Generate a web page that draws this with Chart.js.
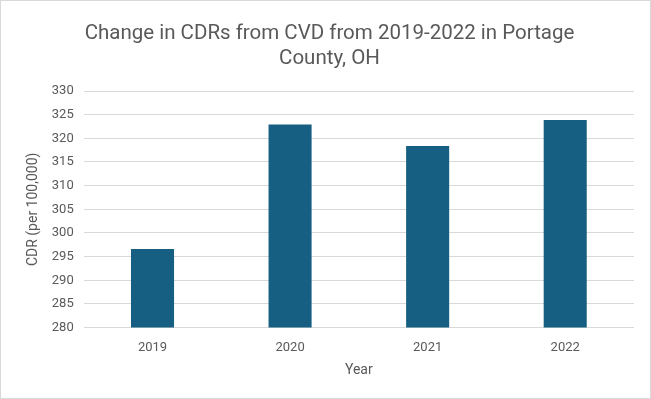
<!DOCTYPE html>
<html>
<head>
<meta charset="utf-8">
<script src="https://cdn.jsdelivr.net/npm/chart.js@4"></script>
<style>
  html, body { margin: 0; padding: 0; background: #fff; }
  #wrap { width: 651px; height: 399px; position: relative; box-sizing: border-box; border: 1px solid #d9d9d9; }
</style>
</head>
<body>
<div id="wrap"><canvas id="chart"></canvas></div>
<script>
// chart data
var years = ['2019', '2020', '2021', '2022'];
var cdr_values = [296.6, 322.9, 318.4, 323.9];
var title_lines = ['Change in CDRs from CVD from 2019-2022 in Portage', 'County, OH'];

var text_color = '#595959';
var font_family = 'Roboto, "Liberation Sans", sans-serif';

var ctx = document.getElementById('chart').getContext('2d');
window.myChart = new Chart(ctx, {
  type: 'bar',
  data: {
    labels: years,
    datasets: [
      {
        label: 'CDR',
        data: cdr_values,
        backgroundColor: '#175f82',
        barPercentage: 0.313,
        categoryPercentage: 1
      }
    ]
  },
  options: {
    responsive: true,
    maintainAspectRatio: false,
    animation: false,
    layout: {
      padding: { left: 24, right: 16, top: 20, bottom: 19 }
    },
    scales: {
      x: {
        grid: { display: false },
        border: { display: false },
        ticks: { color: text_color, font: { family: font_family, size: 13 }, padding: 4 },
        title: {
          display: true,
          text: 'Year',
          color: text_color,
          font: { family: font_family, size: 14 },
          padding: { top: 3, bottom: 0 }
        }
      },
      y: {
        min: 280,
        max: 330,
        grid: { color: '#d9d9d9', drawTicks: false },
        border: { display: false },
        ticks: { stepSize: 5, color: text_color, font: { family: font_family, size: 13 }, padding: 10 },
        title: {
          display: true,
          text: 'CDR (per 100,000)',
          color: text_color,
          font: { family: font_family, size: 14 },
          padding: { top: 0, bottom: 0 }
        }
      }
    },
    plugins: {
      legend: { display: false },
      tooltip: { enabled: false },
      title: {
        display: true,
        text: title_lines,
        color: text_color,
        font: { family: font_family, size: 20.5, weight: 'normal', lineHeight: 1.22 },
        padding: { top: 0, bottom: 20 }
      }
    }
  }
});
</script>
</body>
</html>
